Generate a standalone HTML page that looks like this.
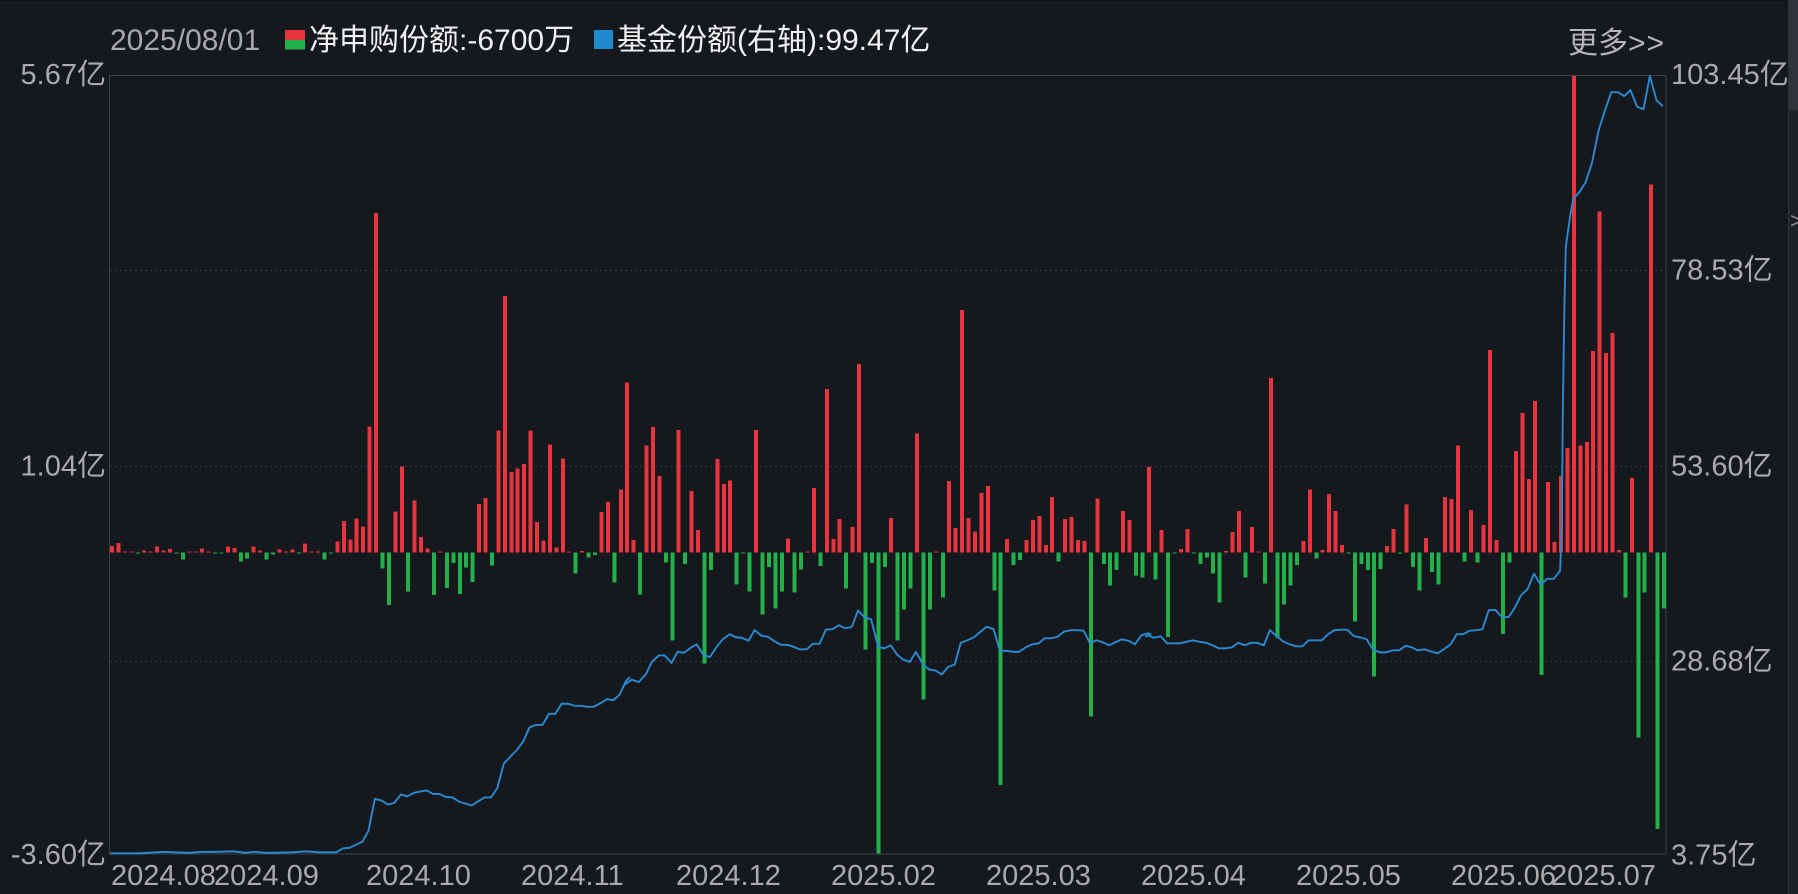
<!DOCTYPE html>
<html><head><meta charset="utf-8">
<style>
html,body{margin:0;padding:0;background:#15181d;}
body{width:1798px;height:894px;overflow:hidden;}
svg{display:block;}
text{font-family:"Liberation Sans","Noto Sans CJK SC",sans-serif;}
</style></head><body>
<svg width="1798" height="894" viewBox="0 0 1798 894" xmlns="http://www.w3.org/2000/svg">
<rect width="1798" height="894" fill="#15181d"/>
<rect x="0" y="0" width="1798" height="1" fill="#0c0e11"/>
<!-- right strip -->
<rect x="1788" y="0" width="10" height="894" fill="#1d2025"/>
<rect x="1789" y="0" width="9" height="110" fill="#30333a"/>
<line x1="1788.5" y1="0" x2="1788.5" y2="894" stroke="#2e3137"/>
<text x="1790" y="228" font-size="22" fill="#8a8a8a">&gt;</text>

<!-- header -->
<text x="110" y="50" font-size="30" fill="#a8a8a8">2025/08/01</text>
<rect x="285" y="30" width="20" height="10" fill="#e8343f"/>
<rect x="285" y="40" width="20" height="9.5" fill="#22b04b"/>
<text x="309" y="50" font-size="30" fill="#f0f0f0">净申购份额:-6700万</text>
<rect x="594" y="30" width="19" height="19" fill="#1f8ad0"/>
<text x="617" y="50" font-size="30" fill="#f0f0f0">基金份额(右轴):99.47亿</text>
<text x="1568" y="53" font-size="30" fill="#b5b5b5">更多<tspan letter-spacing="1">&gt;&gt;</tspan></text>

<!-- grid -->
<g stroke="#363a40" stroke-width="1" stroke-dasharray="2 3">
<line x1="110" y1="270.5" x2="1666" y2="270.5"/>
<line x1="110" y1="466.5" x2="1666" y2="466.5"/>
<line x1="110" y1="661.5" x2="1666" y2="661.5"/>
</g>
<rect x="109.5" y="75.5" width="1556.5" height="778.5" fill="none" stroke="#3d4046" stroke-width="1"/>

<!-- bars -->
<g transform="translate(112,552.6) scale(6.44,-0.50378) translate(-0.31,0)" shape-rendering="crispEdges">
<path fill="#e8343f" d="M0 0h.62v13h-.62zM1 0h.62v19h-.62zM2 0h.62v2h-.62zM3 0h.62v2h-.62zM5 0h.62v4h-.62zM6 0h.62v2h-.62zM7 0h.62v12h-.62zM8 0h.62v4h-.62zM9 0h.62v7h-.62zM12 0h.62v2h-.62zM13 0h.62v2h-.62zM14 0h.62v8h-.62zM15 0h.62v2h-.62zM18 0h.62v12h-.62zM19 0h.62v9h-.62zM22 0h.62v12h-.62zM23 0h.62v4h-.62zM26 0h.62v6h-.62zM27 0h.62v2h-.62zM28 0h.62v6h-.62zM30 0h.62v18h-.62zM31 0h.62v2h-.62zM32 0h.62v2h-.62zM35 0h.62v22h-.62zM36 0h.62v63h-.62zM37 0h.62v26h-.62zM38 0h.62v68h-.62zM39 0h.62v52h-.62zM40 0h.62v250h-.62zM41 0h.62v674h-.62zM44 0h.62v82h-.62zM45 0h.62v171h-.62zM47 0h.62v103h-.62zM48 0h.62v31h-.62zM49 0h.62v8h-.62zM51 0h.62v2h-.62zM57 0h.62v96h-.62zM58 0h.62v108h-.62zM60 0h.62v242h-.62zM61 0h.62v509h-.62zM62 0h.62v160h-.62zM63 0h.62v167h-.62zM64 0h.62v176h-.62zM65 0h.62v242h-.62zM66 0h.62v61h-.62zM67 0h.62v24h-.62zM68 0h.62v215h-.62zM69 0h.62v10h-.62zM70 0h.62v187h-.62zM71 0h.62v2h-.62zM73 0h.62v3h-.62zM76 0h.62v81h-.62zM77 0h.62v100h-.62zM79 0h.62v125h-.62zM80 0h.62v338h-.62zM81 0h.62v25h-.62zM83 0h.62v213h-.62zM84 0h.62v249h-.62zM85 0h.62v152h-.62zM88 0h.62v243h-.62zM90 0h.62v122h-.62zM91 0h.62v45h-.62zM94 0h.62v186h-.62zM95 0h.62v136h-.62zM96 0h.62v143h-.62zM100 0h.62v243h-.62zM105 0h.62v28h-.62zM108 0h.62v2h-.62zM109 0h.62v128h-.62zM111 0h.62v325h-.62zM112 0h.62v27h-.62zM113 0h.62v67h-.62zM115 0h.62v51h-.62zM116 0h.62v374h-.62zM121 0h.62v69h-.62zM125 0h.62v236h-.62zM128 0h.62v2h-.62zM130 0h.62v142h-.62zM131 0h.62v49h-.62zM132 0h.62v482h-.62zM133 0h.62v69h-.62zM134 0h.62v42h-.62zM135 0h.62v118h-.62zM136 0h.62v132h-.62zM139 0h.62v27h-.62zM142 0h.62v25h-.62zM143 0h.62v65h-.62zM144 0h.62v73h-.62zM145 0h.62v15h-.62zM146 0h.62v110h-.62zM148 0h.62v67h-.62zM149 0h.62v71h-.62zM150 0h.62v25h-.62zM151 0h.62v23h-.62zM153 0h.62v107h-.62zM157 0h.62v83h-.62zM158 0h.62v65h-.62zM161 0h.62v170h-.62zM163 0h.62v45h-.62zM166 0h.62v7h-.62zM167 0h.62v47h-.62zM173 0h.62v3h-.62zM174 0h.62v41h-.62zM175 0h.62v83h-.62zM177 0h.62v51h-.62zM178 0h.62v2h-.62zM180 0h.62v347h-.62zM185 0h.62v23h-.62zM186 0h.62v125h-.62zM188 0h.62v5h-.62zM189 0h.62v116h-.62zM190 0h.62v83h-.62zM191 0h.62v15h-.62zM198 0h.62v13h-.62zM199 0h.62v47h-.62zM201 0h.62v95h-.62zM204 0h.62v29h-.62zM207 0h.62v110h-.62zM208 0h.62v106h-.62zM209 0h.62v213h-.62zM211 0h.62v85h-.62zM213 0h.62v55h-.62zM214 0h.62v402h-.62zM215 0h.62v25h-.62zM218 0h.62v202h-.62zM219 0h.62v277h-.62zM220 0h.62v146h-.62zM221 0h.62v301h-.62zM223 0h.62v140h-.62zM224 0h.62v21h-.62zM225 0h.62v152h-.62zM226 0h.62v208h-.62zM227 0h.62v946h-.62zM228 0h.62v213h-.62zM229 0h.62v220h-.62zM230 0h.62v400h-.62zM231 0h.62v677h-.62zM232 0h.62v396h-.62zM233 0h.62v436h-.62zM234 0h.62v5h-.62zM236 0h.62v148h-.62zM239 0h.62v731h-.62z"/>
<path fill="#22b04b" d="M4 0h.62v-2h-.62zM10 0h.62v-2h-.62zM11 0h.62v-14h-.62zM16 0h.62v-2h-.62zM17 0h.62v-2h-.62zM20 0h.62v-18h-.62zM21 0h.62v-12h-.62zM24 0h.62v-14h-.62zM25 0h.62v-4h-.62zM29 0h.62v-2h-.62zM33 0h.62v-14h-.62zM34 0h.62v-2h-.62zM42 0h.62v-32h-.62zM43 0h.62v-104h-.62zM46 0h.62v-77h-.62zM50 0h.62v-84h-.62zM52 0h.62v-70h-.62zM53 0h.62v-21h-.62zM54 0h.62v-82h-.62zM55 0h.62v-30h-.62zM56 0h.62v-58h-.62zM59 0h.62v-26h-.62zM72 0h.62v-41h-.62zM74 0h.62v-10h-.62zM75 0h.62v-5h-.62zM78 0h.62v-59h-.62zM82 0h.62v-83h-.62zM86 0h.62v-20h-.62zM87 0h.62v-174h-.62zM89 0h.62v-23h-.62zM92 0h.62v-220h-.62zM93 0h.62v-35h-.62zM97 0h.62v-63h-.62zM98 0h.62v-2h-.62zM99 0h.62v-77h-.62zM101 0h.62v-123h-.62zM102 0h.62v-29h-.62zM103 0h.62v-111h-.62zM104 0h.62v-77h-.62zM106 0h.62v-79h-.62zM107 0h.62v-34h-.62zM110 0h.62v-27h-.62zM114 0h.62v-71h-.62zM117 0h.62v-192h-.62zM118 0h.62v-21h-.62zM119 0h.62v-597h-.62zM120 0h.62v-29h-.62zM122 0h.62v-174h-.62zM123 0h.62v-113h-.62zM124 0h.62v-71h-.62zM126 0h.62v-292h-.62zM127 0h.62v-113h-.62zM129 0h.62v-89h-.62zM137 0h.62v-75h-.62zM138 0h.62v-461h-.62zM140 0h.62v-25h-.62zM141 0h.62v-15h-.62zM147 0h.62v-18h-.62zM152 0h.62v-325h-.62zM154 0h.62v-23h-.62zM155 0h.62v-65h-.62zM156 0h.62v-35h-.62zM159 0h.62v-45h-.62zM160 0h.62v-49h-.62zM162 0h.62v-53h-.62zM164 0h.62v-168h-.62zM165 0h.62v-2h-.62zM168 0h.62v-2h-.62zM169 0h.62v-23h-.62zM170 0h.62v-10h-.62zM171 0h.62v-41h-.62zM172 0h.62v-99h-.62zM176 0h.62v-49h-.62zM179 0h.62v-61h-.62zM181 0h.62v-170h-.62zM182 0h.62v-103h-.62zM183 0h.62v-65h-.62zM184 0h.62v-25h-.62zM187 0h.62v-12h-.62zM192 0h.62v-2h-.62zM193 0h.62v-137h-.62zM194 0h.62v-23h-.62zM195 0h.62v-35h-.62zM196 0h.62v-246h-.62zM197 0h.62v-33h-.62zM200 0h.62v-2h-.62zM202 0h.62v-29h-.62zM203 0h.62v-75h-.62zM205 0h.62v-39h-.62zM206 0h.62v-63h-.62zM210 0h.62v-18h-.62zM212 0h.62v-20h-.62zM216 0h.62v-162h-.62zM217 0h.62v-20h-.62zM222 0h.62v-243h-.62zM235 0h.62v-89h-.62zM237 0h.62v-367h-.62zM238 0h.62v-79h-.62zM240 0h.62v-549h-.62zM241 0h.62v-111h-.62z"/>
</g>

<!-- fund share line -->
<g fill="none" stroke="#2b8ad0" stroke-width="1.9" stroke-linejoin="round">
<g transform="translate(105,70) scale(0.33478,0.50378)">
<polyline vector-effect="non-scaling-stroke" points="15,1556 20,1555 100,1555 175,1552 210,1553 250,1554 290,1552 330,1552 385,1551 420,1554 445,1552 480,1554 560,1553 600,1551 640,1553 690,1553 711,1545 730,1544 749,1538 769,1532 787,1510 806,1447 826,1450 845,1458 864,1455 884,1438 903,1442 922,1435 942,1432 961,1430 980,1437 999,1437 1018,1443 1038,1444 1057,1452 1076,1456 1095,1460 1114,1452 1134,1444 1153,1444 1172,1425 1191,1377 1211,1363 1230,1350 1249,1333 1268,1305 1287,1300 1307,1300 1326,1278 1345,1278 1364,1258 1383,1258 1403,1262 1422,1262 1441,1264 1460,1264 1480,1257 1499,1249 1518,1251 1537,1240 1557,1212 1568,1205"/>
</g>
<g transform="translate(625,70) scale(0.33478,0.50378)">
<polyline vector-effect="non-scaling-stroke" points="0,1220 20,1210 41,1215 62,1200 80,1175 101,1162 118,1162 139,1177 157,1155 176,1157 196,1147 214,1140 235,1162 254,1165 274,1145 292,1130 313,1120 331,1126 349,1127 369,1133 387,1112 408,1123 427,1125 447,1134 465,1141 484,1141 504,1145 522,1150 543,1150 561,1139 581,1139 600,1111 620,1110 638,1102 657,1108 677,1106 696,1073 716,1087 735,1090 756,1145 774,1148 794,1142 812,1160 830,1170 851,1175 869,1155 890,1180 908,1190 928,1192 946,1200 965,1185 985,1180 1003,1137 1023,1132 1042,1126 1062,1115 1080,1105 1101,1110 1120,1153 1138,1153 1159,1155 1177,1155 1197,1146 1216,1140 1236,1138 1253,1128 1272,1128 1292,1125 1311,1115 1331,1112 1350,1112 1370,1113 1389,1138 1409,1132 1427,1136 1446,1142 1465,1136 1484,1130 1505,1133 1523,1140 1543,1122 1562,1118 1572,1120"/>
</g>
<g transform="translate(1145,70) scale(0.33478,0.50378)">
<polyline vector-effect="non-scaling-stroke" points="0,1125 10,1122 25,1127 47,1124 66,1138 85,1138 105,1138 124,1135 143,1132 163,1135 182,1137 201,1142 221,1148 239,1148 260,1146 278,1137 298,1142 317,1137 335,1137 355,1142 373,1112 394,1124 412,1134 432,1140 451,1144 470,1144 489,1132 508,1132 528,1132 547,1120 566,1112 585,1111 604,1111 624,1124 642,1126 662,1130 681,1150 701,1156 720,1156 740,1152 759,1152 778,1143 797,1146 815,1152 835,1150 854,1154 874,1158 892,1150 913,1140 931,1120 950,1120 970,1113 989,1112 1008,1110 1027,1072 1047,1072 1066,1086 1086,1086 1104,1068 1123,1043 1143,1030 1162,1000 1182,1022 1201,1010 1221,1010 1240,994 1245,900 1248,680 1253,460 1257,350 1270,290 1280,255 1297,243 1316,223 1335,185 1355,120 1374,80 1393,44 1413,44 1431,52 1450,40 1470,73 1489,78 1508,12 1528,60 1547,72"/>
</g>
</g>

<!-- left axis labels -->
<g font-size="29" fill="#aaaaaa" text-anchor="end">
<text x="106" y="84">5.67亿</text>
<text x="106" y="475.5">1.04亿</text>
<text x="106" y="864">-3.60亿</text>
</g>
<!-- right axis labels -->
<g font-size="29" fill="#aaaaaa">
<text x="1671" y="84">103.45亿</text>
<text x="1671" y="279.5">78.53亿</text>
<text x="1671" y="475.5">53.60亿</text>
<text x="1671" y="670.5">28.68亿</text>
<text x="1671" y="864.5">3.75亿</text>
</g>
<!-- x axis labels -->
<g font-size="29" fill="#aaaaaa">
<text x="111" y="885">2024.08</text>
<text x="214" y="885">2024.09</text>
<text x="366" y="885">2024.10</text>
<text x="521" y="885">2024.11</text>
<text x="676" y="885">2024.12</text>
<text x="831" y="885">2025.02</text>
<text x="986" y="885">2025.03</text>
<text x="1141" y="885">2025.04</text>
<text x="1296" y="885">2025.05</text>
<text x="1451" y="885">2025.06</text>
<text x="1551" y="885">2025.07</text>
</g>
</svg>
</body></html>
